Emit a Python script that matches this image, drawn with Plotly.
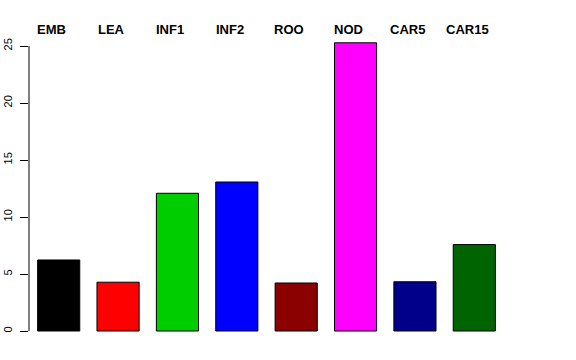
import plotly.graph_objects as go

categories = ["EMB", "LEA", "INF1", "INF2", "ROO", "NOD", "CAR5", "CAR15"]
values = [6.23, 4.28, 12.08, 13.07, 4.21, 25.28, 4.32, 7.58]
colors = ["#000000", "#FF0000", "#00CD00", "#0000FF", "#8B0000", "#FF00FF", "#00008B", "#006400"]
ytick_vals = [0, 5, 10, 15, 20, 25]

font_family = "Liberation Sans, Arial, Helvetica, sans-serif"

fig = go.Figure()
fig.add_trace(go.Bar(
    x=categories,
    y=values,
    marker=dict(color=colors, line=dict(color="#000000", width=1)),
    showlegend=False,
    hoverinfo="x+y",
))

for c in categories:
    fig.add_annotation(
        x=c, y=1, xref="x", yref="paper",
        text="<b>%s</b>" % c,
        showarrow=False,
        xshift=-7, yshift=1.5,
        yanchor="middle", xanchor="center",
        font=dict(family=font_family, size=13, color="#000000"),
    )

# R-style y axis line from 0 to 25 only
fig.add_shape(
    type="line", xref="paper", yref="y",
    x0=0, x1=0, y0=ytick_vals[0], y1=ytick_vals[-1],
    line=dict(color="#000000", width=1),
)

fig.update_layout(
    width=576, height=360,
    autosize=False,
    margin=dict(l=29, r=72, t=31, b=18, pad=0, autoexpand=False),
    paper_bgcolor="white",
    plot_bgcolor="white",
    bargap=0.29,
    font=dict(family=font_family, color="#000000"),
    xaxis=dict(
        showticklabels=False, showline=False, ticks="", showgrid=False,
        zeroline=False, range=[-0.5, 7.5], automargin=False,
    ),
    yaxis=dict(
        range=[-0.965, 26.316],
        tickvals=ytick_vals,
        ticktext=[str(v) for v in ytick_vals],
        ticks="outside", ticklen=8, tickwidth=1, tickcolor="#000000",
        tickangle=-90,
        tickfont=dict(family=font_family, size=11, color="#000000"),
        ticklabelstandoff=4,
        showline=False, showgrid=False, zeroline=False, automargin=False,
    ),
)

fig.write_html(
    "out.html",
    config={"displayModeBar": False},
    post_script="document.body.style.margin='0';document.body.style.overflow='hidden';",
)
